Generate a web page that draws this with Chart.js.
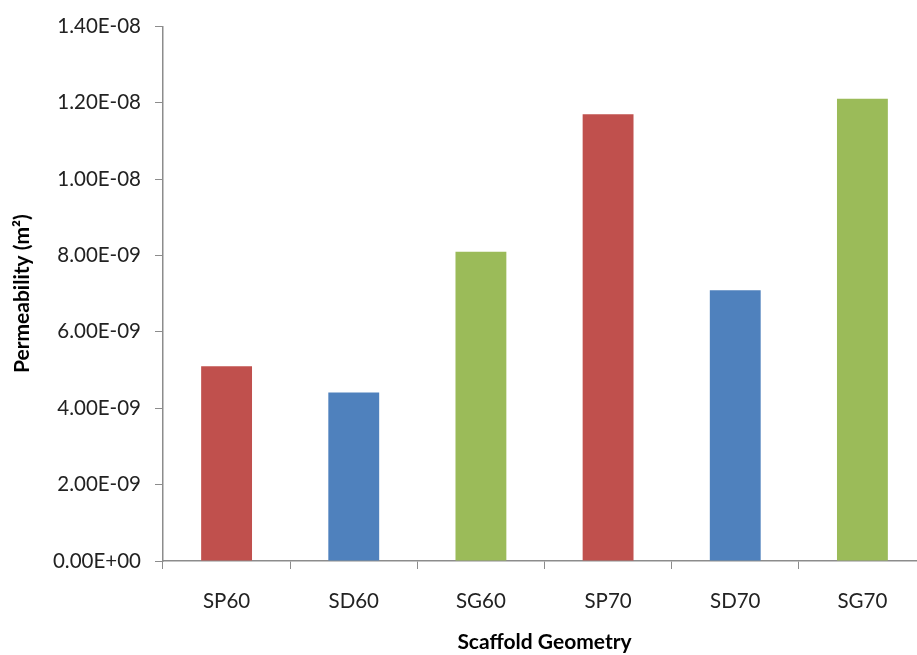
<!DOCTYPE html>
<html>
<head>
<meta charset="utf-8">
<title>Scaffold permeability</title>
<script src="https://cdn.jsdelivr.net/npm/chart.js@4.4.0/dist/chart.umd.min.js"></script>
<style>
  html, body { margin: 0; padding: 0; background: #fff; overflow: hidden; }
  #wrap { width: 940px; height: 655px; }
</style>
</head>
<body>
<div id="wrap"><canvas id="chart-perm" width="940" height="655"></canvas></div>
<script>
// Permeability per scaffold geometry (m^2)
const geometries = ['SP60', 'SD60', 'SG60', 'SP70', 'SD70', 'SG70'];
const permeability = [5.10e-9, 4.41e-9, 8.10e-9, 11.70e-9, 7.09e-9, 12.10e-9];
const barColors = ['#C0504D', '#4F81BD', '#9BBB59', '#C0504D', '#4F81BD', '#9BBB59'];
const yTicks = { min: 0, max: 1.4e-8, step: 2e-9 };

// 1.40E-08 style labels (two digit exponent)
const fmtSci = (v) => {
  const [m, e] = Number(v).toExponential(2).split('e');
  const sign = e[0] === '-' ? '-' : '+';
  const digits = e.replace(/[+-]/, '').padStart(2, '0');
  return m + 'E' + sign + digits;
};

const axisGray = '#8c8c8c';
const font = 'Lato, "Open Sans", sans-serif';

new Chart(document.getElementById('chart-perm'), {
  type: 'bar',
  data: {
    labels: geometries,
    datasets: [{
      data: permeability,
      backgroundColor: barColors,
      borderWidth: 0,
      categoryPercentage: 1,
      barPercentage: 0.4
    }]
  },
  options: {
    responsive: false,
    animation: false,
    layout: { padding: { left: 0, top: 20, right: 14, bottom: 0 } },
    plugins: { legend: { display: false }, tooltip: { enabled: false } },
    scales: {
      x: {
        afterFit: (s) => { s.height = 94; },
        grid: { drawOnChartArea: false, color: axisGray, tickLength: 8, offset: true },
        border: { color: axisGray, width: 1.5 },
        ticks: { color: '#222', padding: 20, font: { family: font, size: 20.5 } },
        title: {
          display: true,
          text: 'Scaffold Geometry',
          color: '#000',
          font: { family: font, size: 21, weight: 'bold' },
          padding: { top: 0, bottom: 0 }
        }
      },
      y: {
        min: yTicks.min,
        max: yTicks.max,
        afterFit: (s) => { s.width = 163; },
        grid: { drawOnChartArea: false, color: axisGray, tickLength: 8 },
        border: { color: axisGray, width: 1.5 },
        ticks: {
          stepSize: yTicks.step,
          color: '#222',
          padding: 14,
          font: { family: font, size: 20.5 },
          callback: (v) => fmtSci(v)
        },
        title: {
          display: true,
          text: 'Permeability (m²)',
          color: '#000',
          font: { family: font, size: 21, weight: 'bold' },
          padding: { top: 10, bottom: 0 }
        }
      }
    }
  }
});
</script>
</body>
</html>
